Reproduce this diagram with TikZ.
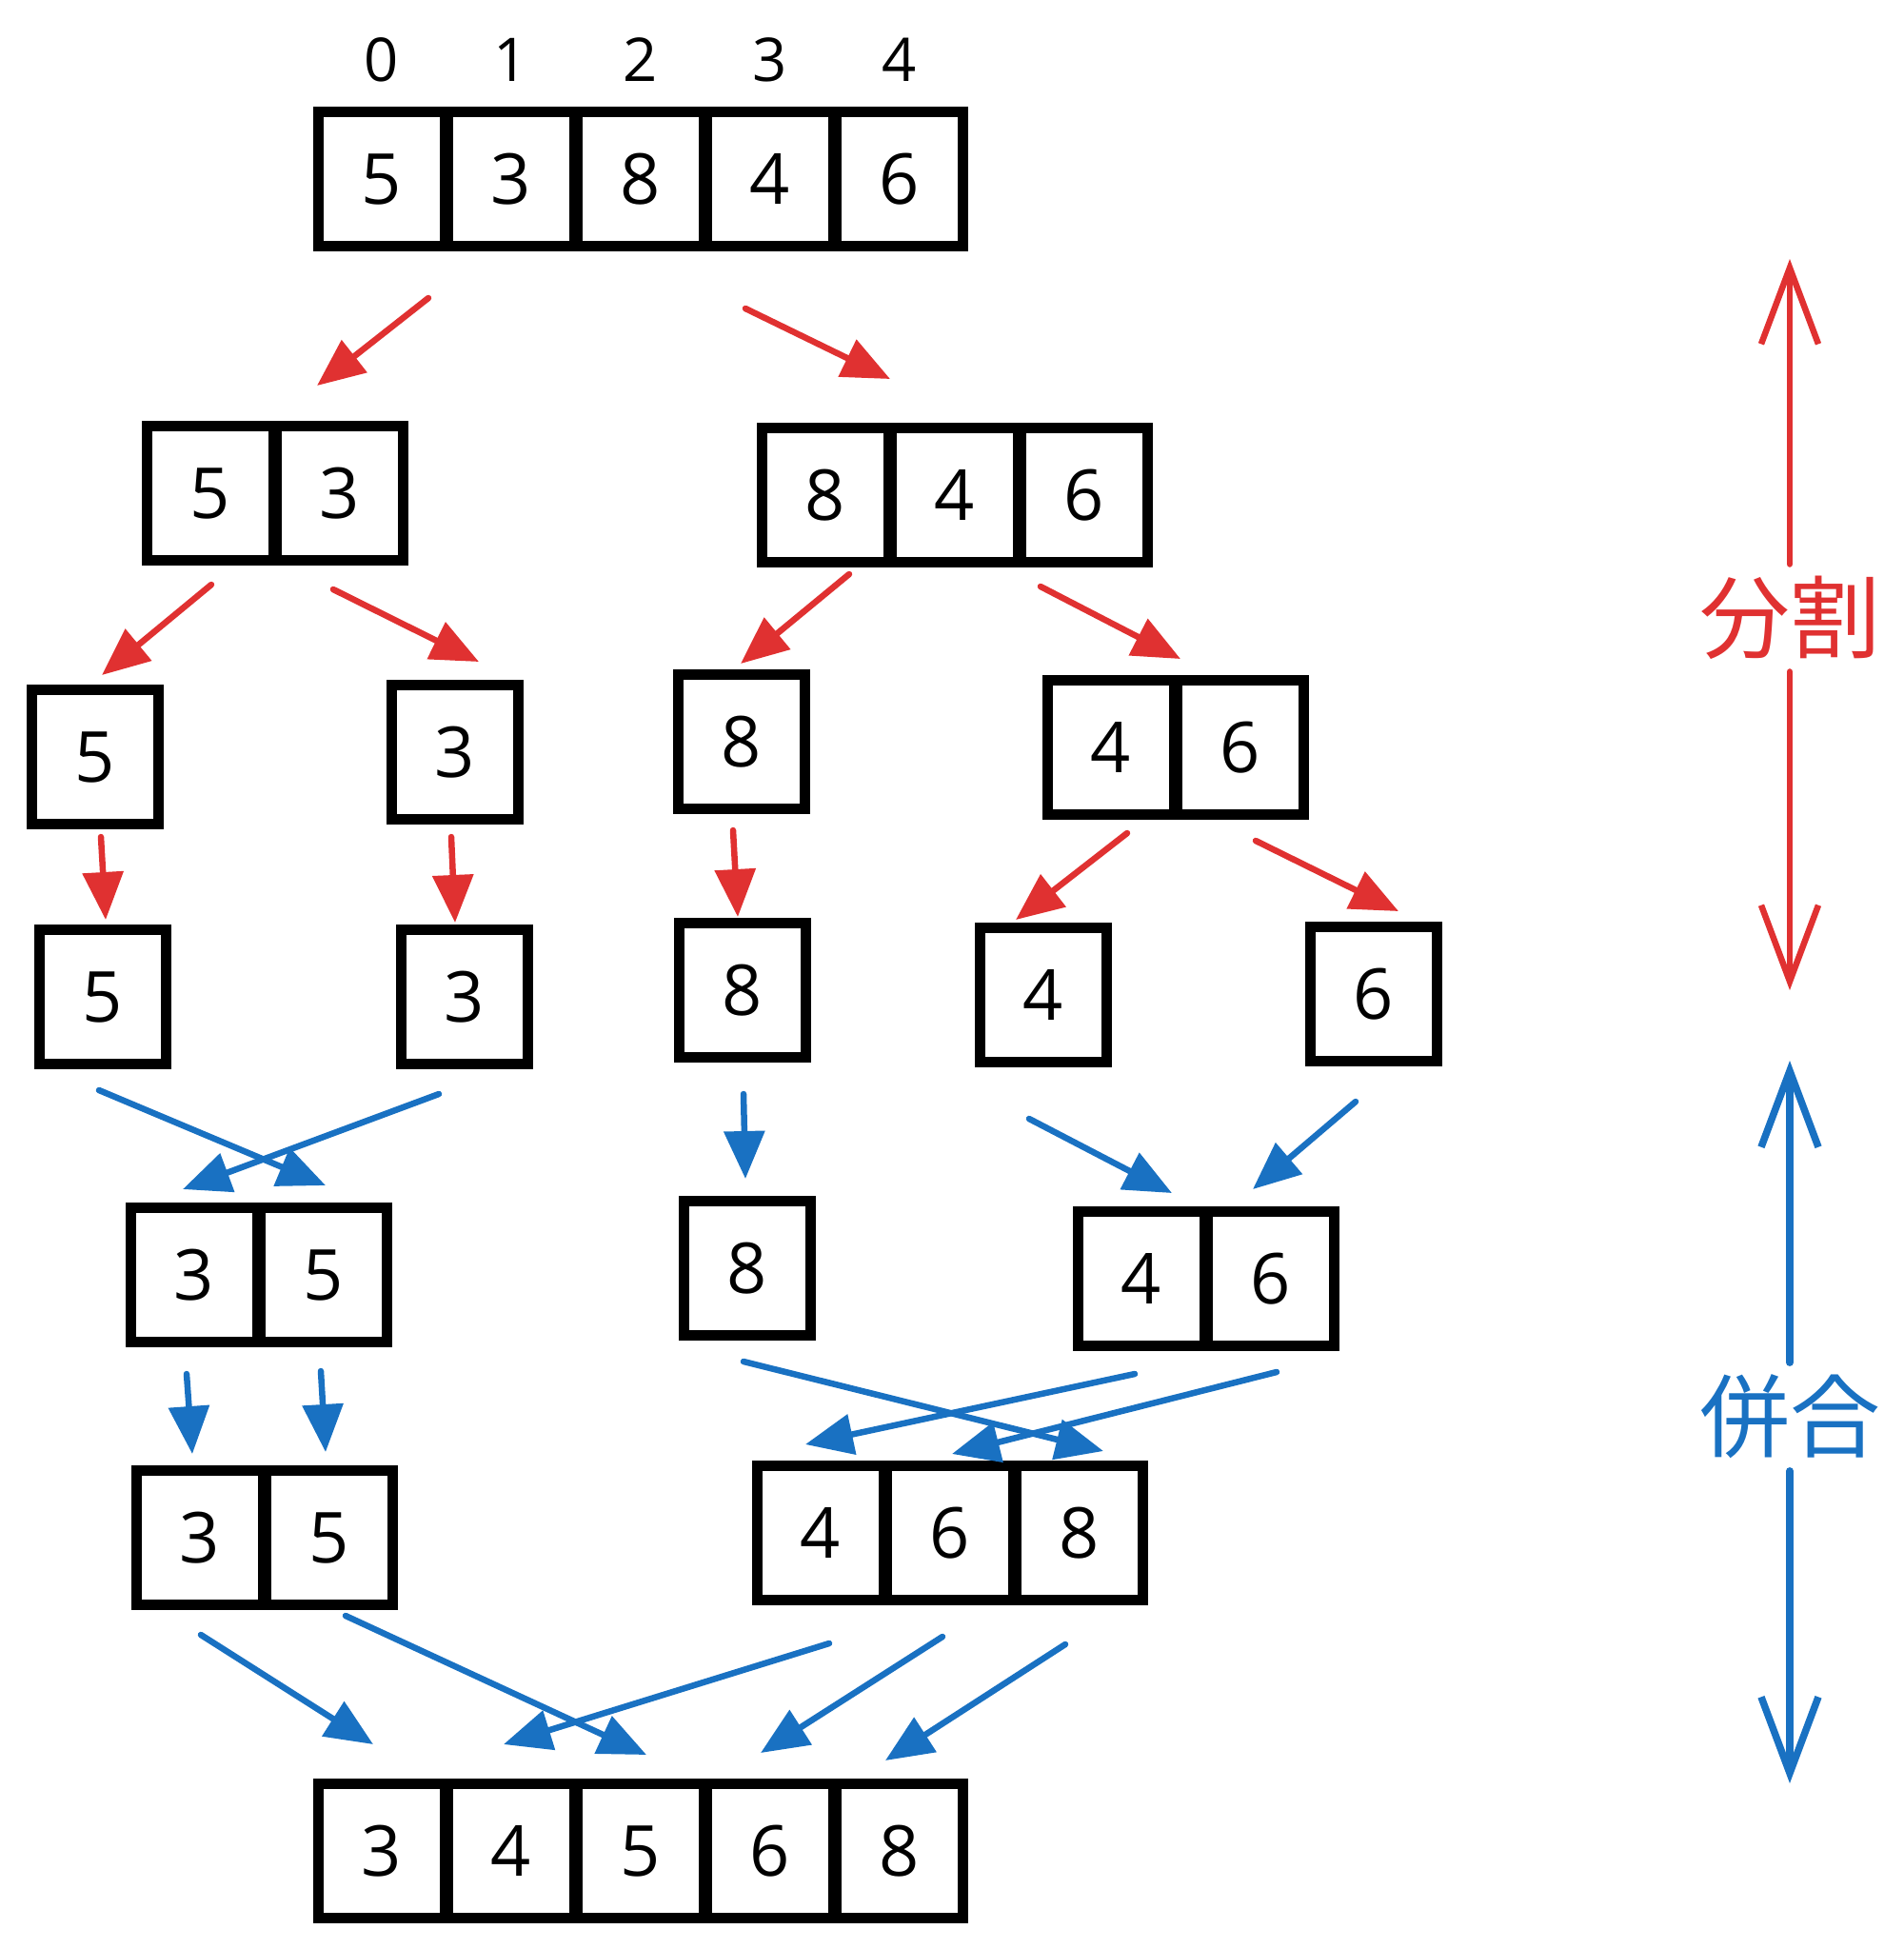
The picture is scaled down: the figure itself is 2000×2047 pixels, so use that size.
\documentclass[tikz,border=0pt]{standalone}
\usepackage{fontspec}
\setmainfont{Open Sans}
\newfontfamily\cjk{Noto Sans CJK JP}
\usetikzlibrary{arrows.meta}
\definecolor{exred}{HTML}{E03131}
\definecolor{exblue}{HTML}{1971C2}
\begin{document}
\begin{tikzpicture}[x=0.01cm,y=-0.01cm,
  cell/.style={draw=black,line width=0.11cm,minimum width=1.33cm,minimum height=1.40cm,inner sep=0pt,font=\fontsize{21}{26}\selectfont},
  idx/.style={font=\fontsize{18}{22}\selectfont},
  ra/.style={draw=exred,line width=0.065cm,line cap=round,-{Triangle[length=0.5cm,width=0.42cm]}},
  ba/.style={draw=exblue,line width=0.065cm,line cap=round,-{Triangle[length=0.5cm,width=0.42cm]}},
  side/.style={line width=0.065cm,line cap=round,-{Straight Barb[length=0.8cm,width=0.6cm]}},
  lab/.style={fill=white,inner sep=0.12cm,font=\cjk\fontsize{27}{30}\selectfont}]
\useasboundingbox (0,0) rectangle (2000,2047);
% top row
\foreach \n/\v/\x in {t0/5/401,t1/3/537,t2/8/673,t3/4/809,t4/6/945}
  \node[cell] (\n) at (\x,188) {\v};
\foreach \i/\x in {0/401,1/537,2/673,3/809,4/945}
  \node[idx] (i\i) at (\x,63) {\i};
% row 2
\node[cell] (l0) at (221,518) {5};
\node[cell] (l1) at (357,518) {3};
\node[cell] (r0) at (867,520) {8};
\node[cell] (r1) at (1003,520) {4};
\node[cell] (r2) at (1139,520) {6};
% row 3
\node[cell] (a5) at (100,795) {5};
\node[cell] (a3) at (478,790) {3};
\node[cell] (a8) at (779,779) {8};
\node[cell] (a4) at (1167,785) {4};
\node[cell] (a6) at (1303,785) {6};
% row 4
\node[cell] (b5) at (108,1047) {5};
\node[cell] (b3) at (488,1047) {3};
\node[cell] (b8) at (780,1040) {8};
\node[cell] (b4) at (1096,1045) {4};
\node[cell] (b6) at (1443,1044) {6};
% row 5
\node[cell] (c3) at (204,1339) {3};
\node[cell] (c5) at (340,1339) {5};
\node[cell] (c8) at (785,1332) {8};
\node[cell] (c4) at (1199,1343) {4};
\node[cell] (c6) at (1335,1343) {6};
% row 6
\node[cell] (d3) at (210,1615) {3};
\node[cell] (d5) at (346,1615) {5};
\node[cell] (d4) at (862,1610) {4};
\node[cell] (d6) at (998,1610) {6};
\node[cell] (d8) at (1134,1610) {8};
% row 7
\foreach \n/\v/\x in {e3/3/401,e4/4/537,e5/5/673,e6/6/809,e8/8/945}
  \node[cell] (\n) at (\x,1944) {\v};
% red arrows (split)
\draw[ra] ([shift={(49,125)}]t0.center) -- ([shift={(112,-113)}]l0.center);
\draw[ra] ([shift={(-26,136)}]t3.center) -- ([shift={(68,-122)}]r0.center);
\draw[ra] ([shift={(1,96)}]l0.center) -- ([shift={(7,-86)}]a5.center);
\draw[ra] ([shift={(-7,101)}]l1.center) -- ([shift={(25,-95)}]a3.center);
\draw[ra] ([shift={(25,83)}]r0.center) -- ([shift={(-1,-82)}]a8.center);
\draw[ra] ([shift={(90,96)}]r1.center) -- ([shift={(73,-93)}]a4.center);
\draw[ra] ([shift={(6,84)}]a5.center) -- ([shift={(3,-81)}]b5.center);
\draw[ra] ([shift={(-4,89)}]a3.center) -- ([shift={(-10,-78)}]b3.center);
\draw[ra] ([shift={(-9,93)}]a8.center) -- ([shift={(-5,-77)}]b8.center);
\draw[ra] ([shift={(17,90)}]a4.center) -- ([shift={(-29,-79)}]b4.center);
\draw[ra] ([shift={(16,98)}]a6.center) -- ([shift={(26,-87)}]b6.center);
% blue arrows (merge)
\draw[ba] ([shift={(-4,98)}]b5.center) -- ([shift={(2,-94)}]c5.center);
\draw[ba] ([shift={(-27,102)}]b3.center) -- ([shift={(-12,-90)}]c3.center);
\draw[ba] ([shift={(1,109)}]b8.center) -- ([shift={(-2,-94)}]c8.center);
\draw[ba] ([shift={(-15,130)}]b4.center) -- ([shift={(32,-90)}]c4.center);
\draw[ba] ([shift={(-19,113)}]b6.center) -- ([shift={(-19,-94)}]c6.center);
\draw[ba] ([shift={(-8,104)}]c3.center) -- ([shift={(-8,-88)}]d3.center);
\draw[ba] ([shift={(-3,101)}]c5.center) -- ([shift={(-4,-90)}]d5.center);
\draw[ba] ([shift={(-4,98)}]c8.center) -- ([shift={(25,-86)}]d8.center);
\draw[ba] ([shift={(-7,100)}]c4.center) -- ([shift={(-16,-93)}]d4.center);
\draw[ba] ([shift={(6,98)}]c6.center) -- ([shift={(2,-83)}]d6.center);
\draw[ba] ([shift={(1,102)}]d3.center) -- ([shift={(-9,-112)}]e3.center);
\draw[ba] ([shift={(17,82)}]d5.center) -- ([shift={(6,-101)}]e5.center);
\draw[ba] ([shift={(9,116)}]d4.center) -- ([shift={(-8,-112)}]e4.center);
\draw[ba] ([shift={(-8,109)}]d6.center) -- ([shift={(-10,-103)}]e6.center);
\draw[ba] ([shift={(-15,117)}]d8.center) -- ([shift={(-15,-95)}]e8.center);
% side legend
\node[lab,text=exred] (split) at (1880,649) {分割};
\coordinate (stop) at (1880,272);
\coordinate (sbot) at (1880,1040);
\draw[side,exred] (split) -- (stop);
\draw[side,exred] (split) -- (sbot);
\node[lab,text=exblue] (merge) at (1880,1488) {併合};
\coordinate (mtop) at (1880,1114);
\coordinate (mbot) at (1880,1873);
\draw[side,exblue,line width=0.075cm] (merge) -- (mtop);
\draw[side,exblue,line width=0.075cm] (merge) -- (mbot);
\end{tikzpicture}
\end{document}
